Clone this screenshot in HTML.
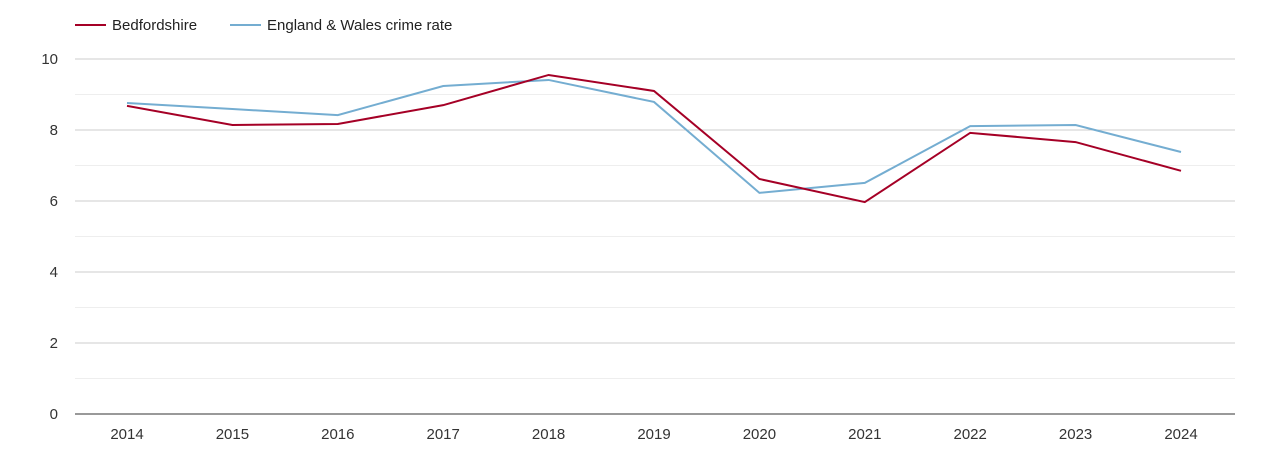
<!DOCTYPE html>
<html><head><meta charset="utf-8"><style>
body{margin:0;background:#fff;font-family:"Liberation Sans",sans-serif}
svg text{font-family:"Liberation Sans",sans-serif}
</style></head><body>
<svg id="c" width="1270" height="450">
<g>
<line x1="75" y1="25" x2="106" y2="25" stroke="#a50026" stroke-width="2"/>
<text x="112" y="30" font-size="15" fill="#222">Bedfordshire</text>
<line x1="230" y1="25" x2="261" y2="25" stroke="#74add1" stroke-width="2"/>
<text x="267" y="30" font-size="15" fill="#222">England &amp; Wales crime rate</text>
</g>
<g id="grid"></g><g id="axes"></g><g id="series"></g>
</svg>
<script>
const years=[2014,2015,2016,2017,2018,2019,2020,2021,2022,2023,2024];
const bedfordshire=[8.68,8.14,8.17,8.70,9.55,9.10,6.62,5.97,7.92,7.66,6.85];
const englandWales=[8.76,8.59,8.42,9.24,9.41,8.79,6.23,6.51,8.11,8.14,7.38];
const yTicks=[0,2,4,6,8,10];
const NS='http://www.w3.org/2000/svg';
const x=i=>127+i*(1181-127)/(years.length-1);
const y=v=>414-v*35.5;
function mk(t,a,p){const e=document.createElementNS(NS,t);for(const k in a)e.setAttribute(k,a[k]);p.appendChild(e);return e;}
const g=document.getElementById('grid'),ax=document.getElementById('axes'),s=document.getElementById('series');
for(let v=1;v<=10;v++){const l=mk('line',{x1:75,x2:1235,y1:y(v),y2:y(v),stroke:v%2?'#eeeeee':'#cccccc'},g);

}
yTicks.forEach(v=>{const t=mk('text',{x:58,y:y(v)+5,'text-anchor':'end','font-size':15,fill:'#333'},ax);t.textContent=v;

});
const base=mk('line',{x1:75,x2:1235,y1:414,y2:414,stroke:'#333'},ax);


years.forEach((yr,i)=>{const t=mk('text',{x:x(i),y:439,'text-anchor':'middle','font-size':15,fill:'#333'},ax);t.textContent=yr;

});
function line(d,c,n){const p=mk('polyline',{points:d.map((v,i)=>x(i)+','+y(v)).join(' '),fill:'none',stroke:c,'stroke-width':2},s);

}
line(englandWales,'#74add1','england-wales-line');
line(bedfordshire,'#a50026','bedfordshire-line');
</script>
</body></html>
